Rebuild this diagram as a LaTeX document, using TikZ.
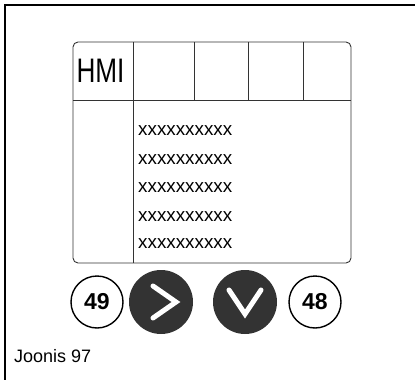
\documentclass[tikz,border=0pt]{standalone}
\usepackage{fontspec}
\setmainfont{Liberation Sans}
\begin{document}
\begin{tikzpicture}[
  x=1pt, y=-1pt,
  grid/.style={draw=black!80, line width=0.9pt},
  row/.style={anchor=west, inner sep=0pt, font=\fontsize{18.8}{18.8}\selectfont},
  numbox/.style={draw, circle, line width=1.4pt, minimum size=52pt, inner sep=0pt,
    font=\fontsize{23}{23}\selectfont\bfseries},
  keybtn/.style={circle, fill=black!80, minimum size=64pt, inner sep=0pt},
  chev/.style={draw=white, line width=5pt, line cap=round, line join=miter}
]
\useasboundingbox (0,0) rectangle (415,380);
\draw[line width=1.3pt] (5,380) -- (5,5) -- (415,5);
% display
\draw[grid, rounded corners=5pt] (73,42) rectangle (351,263);
\draw[grid] (73,100) -- (351,100);
\draw[grid] (133,42) -- (133,263);
\foreach \xx in {194.5,248.5,303} \draw[grid] (\xx,42) -- (\xx,100);
\node[inner sep=0pt, font=\fontsize{34}{34}\selectfont] (hmi) at (100.5,71) {\scalebox{0.77}[1]{HMI}};
\foreach \yy [count=\i] in {131,159.5,188,216.5,244}
  \node[row] (line\i) at (138,\yy) {xxxxxxxxxx};
% keys
\node[numbox] (n49) at (97,302) {49};
\node[keybtn] (right) at (161,302) {};
\node[keybtn] (down) at (245,302) {};
\node[numbox] (n48) at (315,302) {48};
\draw[chev] ([shift={(-8,-16)}]right.center) -- ([shift={(15,0)}]right.center) -- ([shift={(-8,16)}]right.center);
\draw[chev] ([shift={(-16,-12)}]down.center) -- ([shift={(0,12)}]down.center) -- ([shift={(16,-12)}]down.center);
\node[anchor=base west, inner sep=0pt, font=\fontsize{18}{18}\selectfont] (cap) at (14,362) {Joonis 97};
\end{tikzpicture}
\end{document}
